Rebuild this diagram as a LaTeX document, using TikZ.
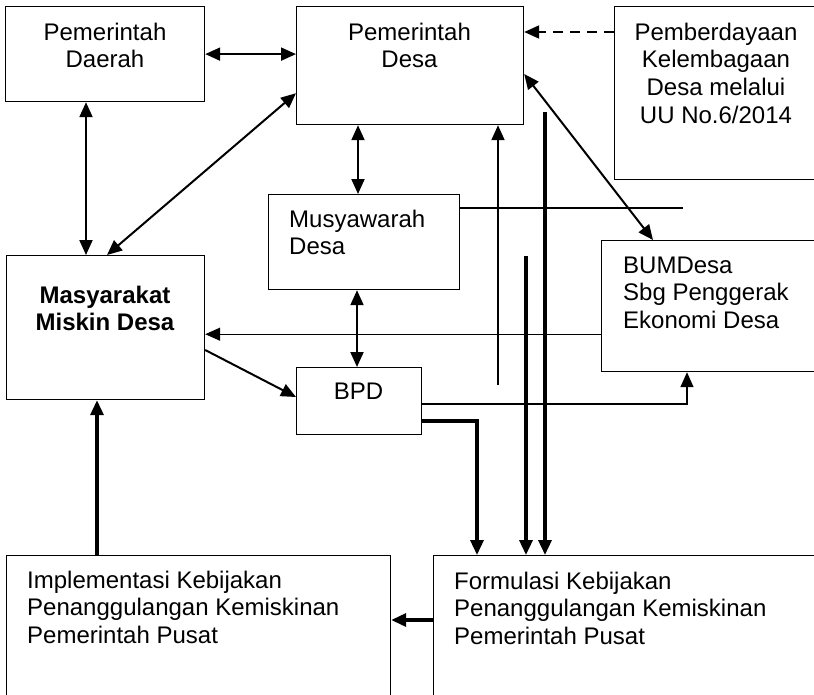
\documentclass[tikz,border=0pt]{standalone}
\usepackage{fontspec}
\setmainfont{Liberation Sans}
\usetikzlibrary{arrows.meta}
\begin{document}
\begin{tikzpicture}[x=1pt,y=-1pt,
  box/.style={draw, line width=1.2pt, inner sep=0pt, anchor=north west},
  ctxt/.style={inner sep=0pt, anchor=north, align=center, font=\fontsize{24}{27.6}\selectfont},
  ltxt/.style={inner sep=0pt, anchor=north west, align=left, font=\fontsize{24}{27.6}\selectfont},
  tipA/.style={-{Triangle[length=15pt,width=13pt]}},
  dblA/.style={{Triangle[length=15pt,width=13pt]}-{Triangle[length=15pt,width=13pt]}},
  thinln/.style={line width=2pt},
  hairln/.style={line width=1.4pt},
  thickln/.style={line width=3.4pt}]
\useasboundingbox (0,0) rectangle (814,694);
\clip (0,0) rectangle (814,694);

% boxes
\node[box, minimum width=199pt, minimum height=95pt]  (pd)   at (5,6) {};
\node[box, minimum width=227pt, minimum height=118pt] (pdes) at (296,6) {};
\node[box, minimum width=204pt, minimum height=173pt] (pk)   at (614,6) {};
\node[box, minimum width=191pt, minimum height=95pt]  (mus)  at (268,194) {};
\node[box, minimum width=229pt, minimum height=131pt] (bum)  at (601,240) {};
\node[box, minimum width=125pt, minimum height=67pt]  (bpd)  at (296,367) {};
\node[box, minimum width=198pt, minimum height=144pt] (mmd)  at (6,255) {};
\node[box, minimum width=384pt, minimum height=160pt] (imp)  at (6,555) {};
\node[box, minimum width=397pt, minimum height=160pt] (form) at (433,555) {};

% texts
\node[ctxt] (tpd)   at (105,20.7)   {\strut Pemerintah\\Daerah};
\node[ctxt] (tpdes) at (409.5,20.7) {\strut Pemerintah\\Desa};
\node[ctxt] (tpk)   at (716,20.7)   {\strut Pemberdayaan\\Kelembagaan\\Desa melalui\\UU No.6/2014};
\node[ltxt] (tmus)  at (289,207.7)  {\strut Musyawarah\\Desa};
\node[ltxt] (tbum)  at (623,253.7)  {\strut BUMDesa\\Sbg Penggerak\\Ekonomi Desa};
\node[ctxt] (tbpd)  at (358.5,379.7) {\strut BPD};
\node[ctxt, font=\fontsize{24}{27.6}\selectfont\bfseries] (tmmd) at (105,283.7) {\strut Masyarakat\\Miskin Desa};
\node[ltxt] (timp)  at (27,568.7)   {\strut Implementasi Kebijakan\\Penanggulangan Kemiskinan\\Pemerintah Pusat};
\node[ltxt] (tform) at (454,569.7)  {\strut Formulasi Kebijakan\\Penanggulangan Kemiskinan\\Pemerintah Pusat};

% free ends
\coordinate (v1) at (498,385);
\coordinate (v2) at (545,112);
\coordinate (v3) at (526,256);
\coordinate (h1) at (683,208);

% connectors
\draw[thinln, dblA] (pd.east) -- (pd.east -| pdes.west);
\draw[thinln, dblA] ([xshift=81pt]pd.south west) -- ([xshift=80pt]mmd.north west);
\draw[thinln, dblA] ([yshift=32pt]pdes.south west) -- ([xshift=101pt]mmd.north west);
\draw[thinln, dblA] ([xshift=62pt]pdes.south west) -- ([xshift=90pt]mus.north west);
\draw[thinln, dashed, dash pattern=on 10pt off 7pt, tipA] ([yshift=-26pt]pk.north west) -- ([yshift=-26pt]pk.north west -| pdes.east);
\draw[thinln, dblA] ([yshift=-68pt]pdes.north east) -- ([xshift=52pt]bum.north west);
\draw[thinln, tipA] (v1) -- (v1 |- pdes.south);
\draw[thickln, tipA] (v2) -- (v2 |- form.north);
\draw[thickln, tipA] (v3) -- (v3 |- form.north);
\draw[hairln] ([yshift=-14pt]mus.north east) -- (h1);
\draw[thinln, dblA] ([xshift=89pt]mus.south west) -- ([xshift=61pt]bpd.north west);
\draw[hairln, tipA] ([yshift=38pt]bum.south west) -- ([yshift=38pt]bum.south west -| mmd.east);
\draw[thinln, tipA] ([yshift=-95pt]mmd.north east) -- ([yshift=-30pt]bpd.north west);
\draw[hairln, tipA] ([yshift=-37pt]bpd.north east) -| ([xshift=86pt]bum.south west);
\draw[thickln, tipA] ([yshift=-54pt]bpd.north east) -| ([xshift=44pt]form.north west);
\draw[thickln, tipA] ([yshift=-65pt]form.north west) -- ([yshift=-65pt]form.north west -| imp.east);
\draw[thickln, tipA] ([xshift=91pt]imp.north west) -- ([xshift=91pt]imp.north west |- mmd.south);
\end{tikzpicture}
\end{document}
